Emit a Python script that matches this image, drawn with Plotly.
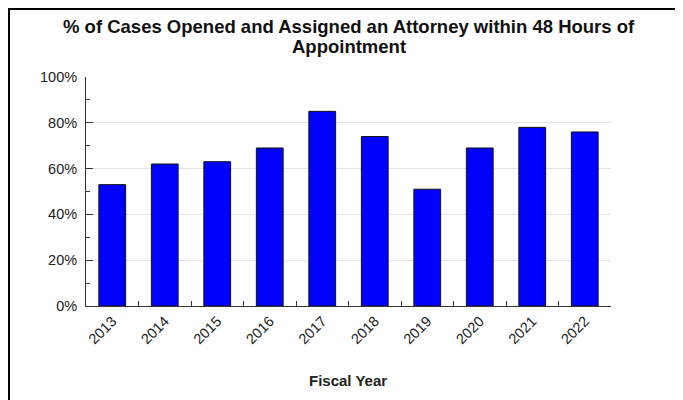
import plotly.graph_objects as go

years = ["2013", "2014", "2015", "2016", "2017", "2018", "2019", "2020", "2021", "2022"]
pct_values = [0.53, 0.62, 0.63, 0.69, 0.85, 0.74, 0.51, 0.69, 0.78, 0.76]
y_ticks = [0, 0.2, 0.4, 0.6, 0.8, 1.0]
y_tick_labels = ["0%", "20%", "40%", "60%", "80%", "100%"]
title_lines = ["% of Cases Opened and Assigned an Attorney within 48 Hours of", "Appointment"]
x_title = "Fiscal Year"

# figure is shown with an 8px page margin, so work in figure coordinates
W, H = 675, 392
L, R, T, B = 78, 72, 69, 94
pw = W - L - R
ph = H - T - B


def px_x(x):
    return (x - L) / pw


def px_y(y):
    return (H - B - y) / ph


font_fam = "Arial, Liberation Sans, sans-serif"

fig = go.Figure()
fig.add_trace(go.Bar(
    x=years, y=pct_values,
    marker=dict(color="#0000FF", line=dict(color="#111111", width=1)),
))

fig.update_layout(
    width=W, height=H,
    margin=dict(l=L, r=R, t=T, b=B),
    paper_bgcolor="white", plot_bgcolor="white",
    bargap=0.49,
    showlegend=False,
    font=dict(family=font_fam, size=15, color="#222222"),
    xaxis=dict(
        type="category",
        showline=True, linecolor="#333333", linewidth=1,
        ticks="inside", ticklen=5, tickcolor="#333333",
        tickson="boundaries",
        tickangle=-45,
        showgrid=False,
        tickfont=dict(size=14.5, color="#222222"),
    ),
    yaxis=dict(
        range=[0, 1],
        tickvals=y_ticks, ticktext=y_tick_labels,
        showline=True, linecolor="#333333", linewidth=1,
        ticks="inside", ticklen=7, tickcolor="#333333",
        minor=dict(dtick=0.1, ticks="inside", ticklen=4, tickcolor="#333333", showgrid=False),
        showgrid=True, gridcolor="#e3e3e3", gridwidth=1,
        zeroline=False,
        tickfont=dict(size=14.5, color="#222222"),
        ticklabelstandoff=5,
    ),
    annotations=[
        dict(text="<b>" + title_lines[0] + "</b>", x=px_x(341), y=px_y(19),
             xref="paper", yref="paper", xanchor="center", yanchor="middle",
             showarrow=False, font=dict(family=font_fam, size=18.5, color="#111111")),
        dict(text="<b>" + title_lines[1] + "</b>", x=px_x(341), y=px_y(39),
             xref="paper", yref="paper", xanchor="center", yanchor="middle",
             showarrow=False, font=dict(family=font_fam, size=18.5, color="#111111")),
        dict(text="<b>" + x_title + "</b>", x=px_x(340), y=px_y(372),
             xref="paper", yref="paper", xanchor="center", yanchor="middle",
             showarrow=False, font=dict(family=font_fam, size=15, color="#222222")),
    ],
    shapes=[
        dict(type="line", xref="paper", yref="paper",
             x0=px_x(1), x1=px_x(1), y0=px_y(0), y1=px_y(H + 10),
             line=dict(color="black", width=2)),
        dict(type="line", xref="paper", yref="paper",
             x0=px_x(0), x1=px_x(W + 10), y0=px_y(1), y1=px_y(1),
             line=dict(color="black", width=2)),
    ],
)

fig.write_html("out.html")
